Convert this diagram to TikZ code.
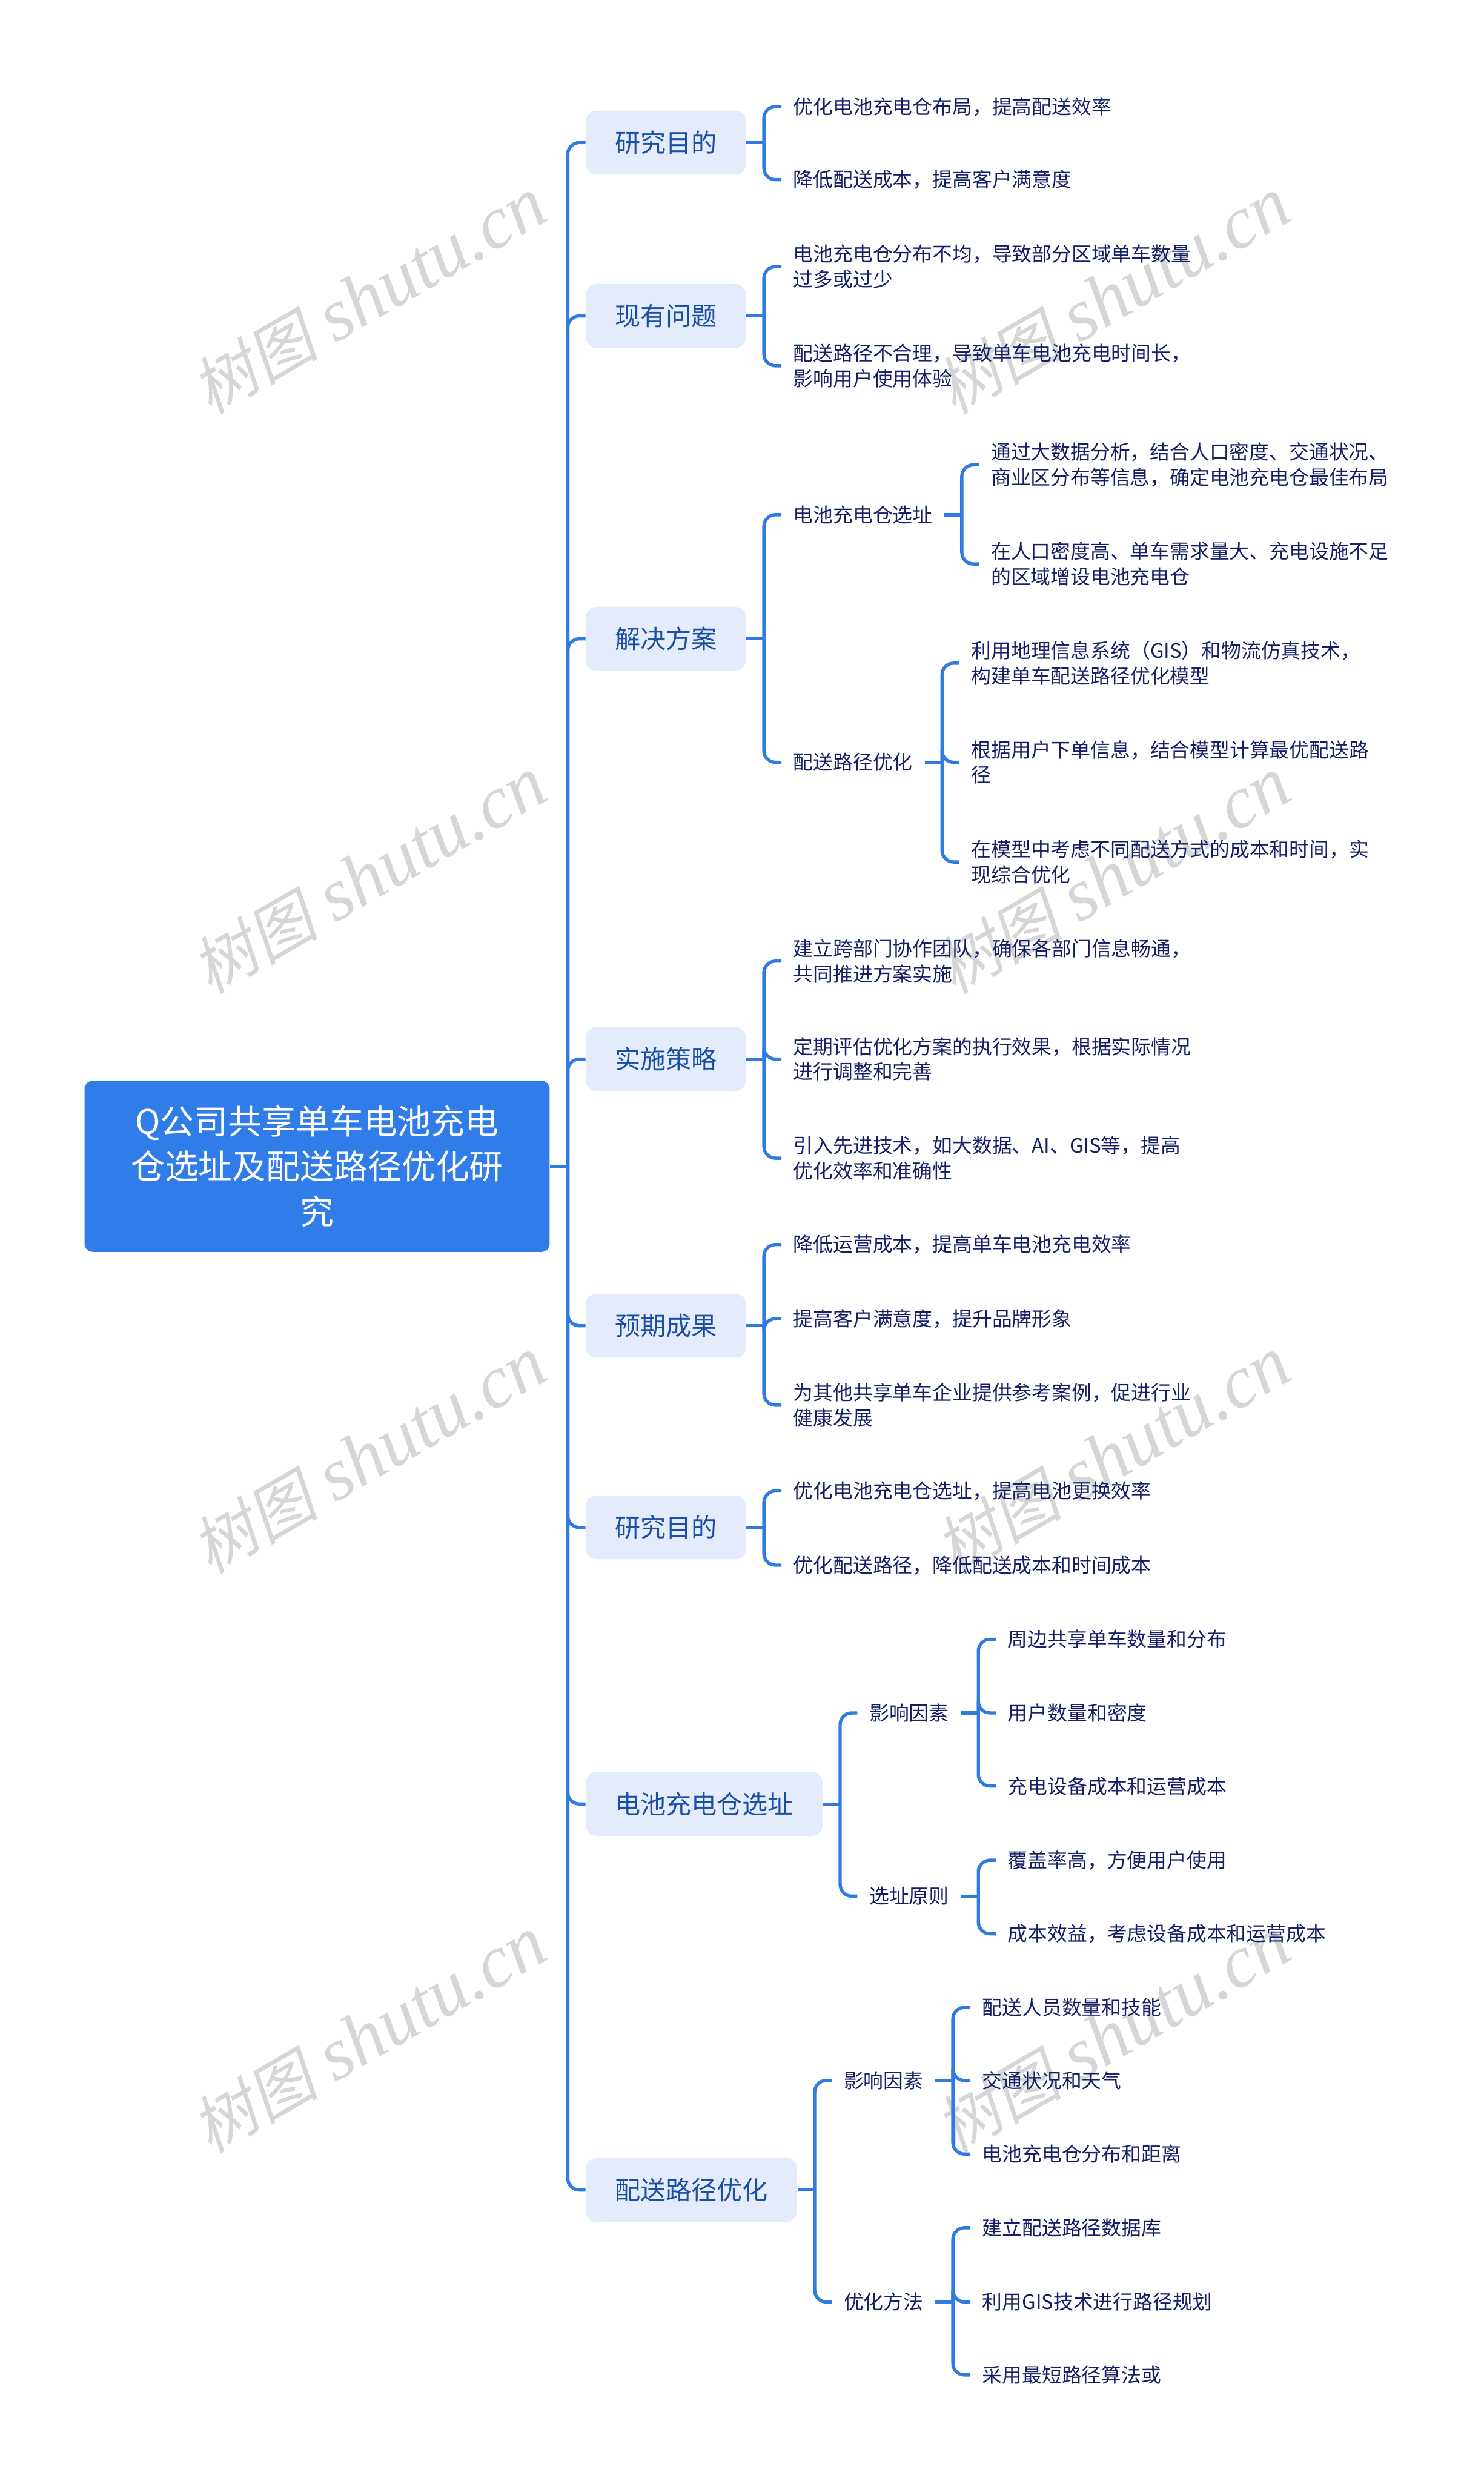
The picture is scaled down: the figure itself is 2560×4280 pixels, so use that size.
\documentclass[tikz,border=0pt]{standalone}
\usepackage{fontspec}
\usepackage{xcolor}
\usetikzlibrary{calc}
\setmainfont{Noto Sans CJK SC}
\newfontfamily\wmcjk[FakeSlant=0.2]{Noto Sans CJK SC}
\newfontfamily\wmlat{Liberation Serif}
\definecolor{rootblue}{HTML}{307DEA}
\definecolor{linkblue}{HTML}{2F7BE0}
\definecolor{branchfill}{HTML}{E4EBFB}
\definecolor{branchtext}{HTML}{1B4FA3}
\definecolor{leaftext}{HTML}{141F66}
\definecolor{wmgray}{HTML}{D6D6D6}
\newcommand{\linkto}[2]{%
	\coordinate (m) at ($(#1.east)!.5!(#2.west)$);
	\draw[stem] (#1.east) -- (m |- #1.east);
	\draw[link] (m |- #1.east) -- (m |- #2.west) -- (#2.west);}

\begin{document}
\begin{tikzpicture}[x=0.01cm,y=-0.01cm,
	rootnode/.style={fill=rootblue,text=white,rounded corners=0.14cm,minimum width=8.02cm,minimum height=2.95cm,align=center,inner sep=0,font=\fontsize{16.6pt}{22.2pt}\selectfont},
	branchnode/.style={fill=branchfill,text=branchtext,rounded corners=0.18cm,minimum height=1.1cm,inner xsep=0.5cm,inner ysep=0,anchor=west,font=\fontsize{12.52pt}{16pt}\selectfont},
	leafnode/.style={text=leaftext,inner xsep=0.2cm,inner ysep=0,anchor=west,align=left,yshift=-0.01cm,font=\fontsize{9.75pt}{12.4pt}\selectfont},
	wmnode/.style={text=wmgray,rotate=30,inner sep=0},
	stem/.style={draw=linkblue,line width=1.6pt},
	link/.style={stem,rounded corners=0.2cm}]
	\useasboundingbox (0,0) rectangle (2560,4280);
	%%watermarks drawn first with a loop
	\foreach \k in {0,1,2,3}{
		\node[wmnode] (wa\k) at (637,511+1000*\k){{\wmcjk\fontsize{31pt}{36pt}\selectfont 树图}\hspace{0.3cm}{\wmlat\itshape\fontsize{36.5pt}{44pt}\selectfont shutu.cn}};
		\node[wmnode] (wb\k) at (1920,511+1000*\k){{\wmcjk\fontsize{31pt}{36pt}\selectfont 树图}\hspace{0.3cm}{\wmlat\itshape\fontsize{36.5pt}{44pt}\selectfont shutu.cn}};
	}
	%root placed by hand
	\node[rootnode] (r) at (547,2012){Q公司共享单车电池充电\\仓选址及配送路径优化研\\究};
	%%first level drawn with a loop
	\foreach \n/\y/\t in {b1/246/研究目的,b2/545/现有问题,b3/1102/解决方案,b4/1827/实施策略,b5/2287/预期成果,b6/2635/研究目的,b7/3112/电池充电仓选址,b8/3778/配送路径优化}{
		\node[branchnode] (\n) at (1010,\y){\t};
		\linkto{r}{\n}
	}
	%%second level nodes right of the boxes
	\foreach \p/\n/\y/\t in {
		b1/b1a/183/{优化电池充电仓布局，提高配送效率},
		b1/b1b/309/{降低配送成本，提高客户满意度},
		b2/b2a/459/{电池充电仓分布不均，导致部分区域单车数量\\过多或过少},
		b2/b2b/630/{配送路径不合理，导致单车电池充电时间长，\\影响用户使用体验},
		b3/b3a/887/{电池充电仓选址},
		b3/b3b/1314/{配送路径优化},
		b4/b4a/1657/{建立跨部门协作团队，确保各部门信息畅通，\\共同推进方案实施},
		b4/b4b/1826/{定期评估优化方案的执行效果，根据实际情况\\进行调整和完善},
		b4/b4c/1997/{引入先进技术，如大数据、AI、GIS等，提高\\优化效率和准确性},
		b5/b5a/2146/{降低运营成本，提高单车电池充电效率},
		b5/b5b/2274/{提高客户满意度，提升品牌形象},
		b5/b5c/2423/{为其他共享单车企业提供参考案例，促进行业\\健康发展},
		b6/b6a/2571/{优化电池充电仓选址，提高电池更换效率},
		b6/b6b/2699/{优化配送路径，降低配送成本和时间成本}}{
		\node[leafnode] (\n) at (1348,\y){\t};
		\linkto{\p}{\n}
	}
	\node[leafnode] (b7a) at (1479,2954){影响因素};
	\node[leafnode] (b7b) at (1479,3270){选址原则};
	\node[leafnode] (b8a) at (1435,3588){影响因素};
	\node[leafnode] (b8b) at (1435,3970){优化方法};
	\linkto{b7}{b7a} \linkto{b7}{b7b}
	\linkto{b8}{b8a} \linkto{b8}{b8b}
	%%third level drawn the same way
	\foreach \p/\n/\x/\y/\t in {
		b3a/c1/1689/801/{通过大数据分析，结合人口密度、交通状况、\\商业区分布等信息，确定电池充电仓最佳布局},
		b3a/c2/1689/972/{在人口密度高、单车需求量大、充电设施不足\\的区域增设电池充电仓},
		b3b/c3/1655/1143/{利用地理信息系统（GIS）和物流仿真技术，\\构建单车配送路径优化模型},
		b3b/c4/1655/1314/{根据用户下单信息，结合模型计算最优配送路\\径},
		b3b/c5/1655/1486/{在模型中考虑不同配送方式的成本和时间，实\\现综合优化},
		b7a/c6/1718/2827/{周边共享单车数量和分布},
		b7a/c7/1718/2954/{用户数量和密度},
		b7a/c8/1718/3080/{充电设备成本和运营成本},
		b7b/c9/1718/3208/{覆盖率高，方便用户使用},
		b7b/c10/1718/3335/{成本效益，考虑设备成本和运营成本},
		b8a/c11/1674/3462/{配送人员数量和技能},
		b8a/c12/1674/3588/{交通状况和天气},
		b8a/c13/1674/3715/{电池充电仓分布和距离},
		b8b/c14/1674/3842/{建立配送路径数据库},
		b8b/c15/1674/3970/{利用GIS技术进行路径规划},
		b8b/c16/1674/4096/{采用最短路径算法或}}{
		\node[leafnode] (\n) at (\x,\y){\t};
		\linkto{\p}{\n}
	}
\end{tikzpicture}
\end{document}
